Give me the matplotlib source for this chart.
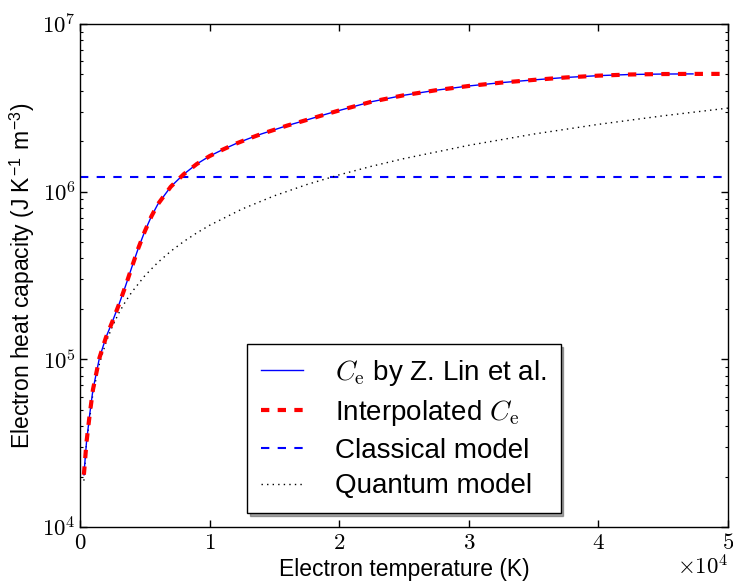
import numpy as np
import matplotlib
matplotlib.use('Agg')
import matplotlib.pyplot as plt
from matplotlib.ticker import FuncFormatter, FixedLocator, LogLocator, NullFormatter

plt.rcParams['font.family'] = ['Liberation Sans', 'DejaVu Sans']
plt.rcParams['mathtext.fontset'] = 'cm'
plt.rcParams['lines.scale_dashes'] = False

# Electron heat capacity by Z. Lin et al. (T in K, C in J K^-1 m^-3)
lin_T = [300, 500, 750, 1000, 1500, 2000, 2500, 3000, 3500, 4000, 4500,
         5000, 5500, 6000, 7000, 8000, 9000, 10000, 11000, 12000, 13000,
         14000, 15000, 16000, 17000, 18000, 19000, 20000, 22500, 25000,
         27500, 30000, 32500, 35000, 37500, 40000, 42500, 45000, 47300]
lin_C = [2.05e4, 3.2e4, 4.7e4, 6.6e4, 1.02e5, 1.35e5, 1.68e5, 2.12e5,
         2.72e5, 3.55e5, 4.6e5, 5.8e5, 7.1e5, 8.4e5, 1.07e6, 1.27e6,
         1.46e6, 1.63e6, 1.78e6, 1.93e6, 2.07e6, 2.21e6, 2.34e6, 2.48e6,
         2.61e6, 2.75e6, 2.90e6, 3.05e6, 3.44e6, 3.76e6, 4.03e6, 4.27e6,
         4.47e6, 4.64e6, 4.80e6, 4.92e6, 5.00e6, 5.03e6, 5.04e6]

# Interpolated Ce (extends to 5e4 K)
interp_T = lin_T + [50000]
interp_C = lin_C + [5.04e6]

# Classical model (constant)
classical_T = [0, 50000]
classical_C = [1.23e6, 1.23e6]

# Quantum model (linear in T)
quantum_T = [300, 500, 1000, 1500, 2000, 2500, 3000, 3500, 4000, 5000, 6000,
             7000, 8000, 9000, 10000, 12500, 15000, 17500, 20000, 22500,
             25000, 30000, 35000, 40000, 45000, 50000]
quantum_C = [1.89e4, 3.15e4, 6.3e4, 9.45e4, 1.26e5, 1.575e5, 1.89e5,
             2.205e5, 2.52e5, 3.15e5, 3.78e5, 4.41e5, 5.04e5, 5.67e5,
             6.3e5, 7.875e5, 9.45e5, 1.1025e6, 1.26e6, 1.4175e6, 1.575e6,
             1.89e6, 2.205e6, 2.52e6, 2.835e6, 3.15e6]

x_ticks = [0, 10000, 20000, 30000, 40000, 50000]

W, H = 733, 587
fig = plt.figure(figsize=(W / 100, H / 100), dpi=100)
ax = fig.add_axes([80 / W, 1 - 527 / H, (728 - 80) / W, (527 - 24) / H])

ax.plot(lin_T, lin_C, color='blue', lw=1.0, label=r'$C_\mathrm{e}$ by Z. Lin et al.', zorder=3)
ax.plot(interp_T, interp_C, color='red', lw=3.0, dashes=(6, 6),
        label=r'Interpolated $C_\mathrm{e}$', zorder=4)
ax.plot(classical_T, classical_C, color='blue', lw=1.5, dashes=(6, 6),
        label='Classical model', zorder=2)
ax.plot(quantum_T, quantum_C, color='black', lw=1.0, dashes=(1, 3),
        label='Quantum model', zorder=2)

ax.set_yscale('log')
ax.set_xlim(0, 50000)
ax.set_ylim(1e4, 1e7)

ax.xaxis.set_major_locator(FixedLocator(x_ticks))
ax.xaxis.set_major_formatter(FuncFormatter(lambda v, p: r'$%d$' % round(v / 1e4)))
ax.yaxis.set_major_locator(LogLocator(base=10))
ax.yaxis.set_minor_locator(LogLocator(base=10, subs=np.arange(2, 10)))
ax.yaxis.set_minor_formatter(NullFormatter())
ax.yaxis.set_major_formatter(FuncFormatter(lambda v, p: r'$10^{%d}$' % round(np.log10(v))))

ax.tick_params(which='both', direction='in', top=True, right=True)
ax.tick_params(which='major', length=5, width=1, labelsize=16.5)
ax.tick_params(axis='x', which='major', pad=3)
ax.tick_params(axis='y', which='major', pad=3)
ax.tick_params(which='minor', length=2.5, width=0.8)
for s in ax.spines.values():
    s.set_linewidth(1.0)

ax.text(1.0, -0.056, r'$\times10^{4}$', transform=ax.transAxes, ha='right', va='top', fontsize=16.5)

ax.set_xlabel('Electron temperature (K)', fontsize=16.5, va='top')
ax.xaxis.set_label_coords(0.5, -0.061)
ax.set_ylabel(r'Electron heat capacity (J K$^{\mathregular{-1}}$ m$^{\mathregular{-3}}$)', fontsize=16.5)
ax.yaxis.set_label_coords(-0.066, 0.5)

leg = ax.legend(loc='lower center', fontsize=20, fancybox=False, shadow=True,
                framealpha=1, edgecolor='black', handlelength=1.5,
                handletextpad=1.15, labelspacing=0.35, borderpad=0.5)
leg.get_frame().set_linewidth(1.0)

fig.savefig('out.png', dpi=100, facecolor='white')
